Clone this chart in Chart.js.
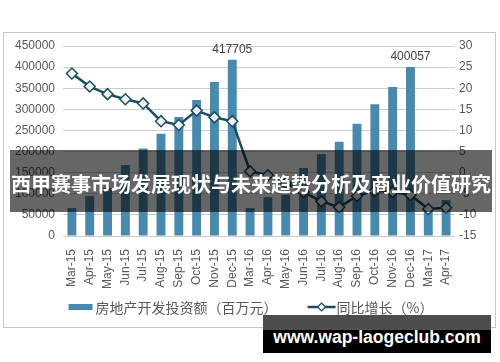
<!DOCTYPE html>
<html>
<head>
<meta charset="utf-8">
<script src="https://cdn.jsdelivr.net/npm/chart.js@4/dist/chart.umd.min.js"></script>
<style>
  body { margin: 0; background: #fff; }
  #wrap { position: relative; width: 500px; height: 362px; overflow: hidden; }
  #frame { position: absolute; left: 3px; top: 32px; width: 493px; height: 296px; box-sizing: border-box; border: 1px solid #c6c6c6; }
  #c { position: absolute; left: 0; top: 0; }
  #banner { position: absolute; left: 10px; top: 150px; width: 482px; height: 62px; background: rgba(0,0,0,0.6);
            color: #fff; font: bold 20px "Noto Sans CJK SC", sans-serif; line-height: 68px; text-align: center;
            white-space: nowrap; overflow: hidden; }
  #mark { position: absolute; left: 263px; top: 315px; width: 228px; height: 38px;
          background: linear-gradient(#4d4d4d 0, #4d4d4d 15px, #000 15px, #000 100%); }
  #mark span { position: absolute; left: 0; right: 0; top: 13px; text-align: center; color: #fff;
               font: bold 17.5px "Liberation Sans", Arial, sans-serif; line-height: 18px; white-space: nowrap; }
</style>
</head>
<body>
<div id="wrap">
  <div id="frame"></div>
  <canvas id="c" width="500" height="362"></canvas>
  <div id="banner">西甲赛事市场发展现状与未来趋势分析及商业价值研究</div>
  <div id="mark"><span>www.wap-laogeclub.com</span></div>
</div>
<script>
// 数据
const categories = ['Mar-15', 'Apr-15', 'May-15', 'Jun-15', 'Jul-15', 'Aug-15', 'Sep-15', 'Oct-15', 'Nov-15', 'Dec-15',
                    'Mar-16', 'Apr-16', 'May-16', 'Jun-16', 'Jul-16', 'Aug-16', 'Sep-16', 'Oct-16', 'Nov-16', 'Dec-16',
                    'Mar-17', 'Apr-17'];
const investment = [66000, 95000, 114000, 168000, 207000, 242000, 282000, 322000, 365000, 417705,
                    66000, 92000, 98000, 161000, 194000, 223000, 266000, 312000, 353000, 400057,
                    65000, 85000];
const growth = [23.5, 20.4, 18.6, 17.4, 16.4, 12.2, 11.3, 14.7, 13.1, 12.2,
                0.3, -0.6, -2.5, -4.6, -6.8, -8.2, -5.5, -4.3, -4.6, -5.3,
                -8.6, -8.3];
const labeledMonths = ['Dec-15', 'Dec-16'];
const leftAxis = { min: 0, max: 450000, step: 50000 };
const rightAxis = { min: -15, max: 30, step: 5 };

const BAR_COLOR = '#4a89ae';
const LINE_COLOR = '#1b4c61';
const TEXT_COLOR = '#595959';
const LATIN = '"Liberation Sans", Arial, sans-serif';
const CJK = '"Noto Sans CJK SC", sans-serif';

// 柱顶数值
const valueLabels = {
  id: 'valueLabels',
  afterDatasetsDraw(chart) {
    const ctx = chart.ctx;
    const meta = chart.getDatasetMeta(0);
    ctx.save();
    ctx.font = '12px ' + LATIN;
    ctx.fillStyle = '#404040';
    ctx.textAlign = 'center';
    ctx.textBaseline = 'alphabetic';
    labeledMonths.forEach(m => {
      const i = categories.indexOf(m);
      const el = meta.data[i];
      ctx.fillText(String(investment[i]), el.x, el.y - 7);
    });
    ctx.restore();
  }
};

// 图例 (线 + 菱形标记)
const customLegend = {
  id: 'customLegend',
  afterDraw(chart) {
    const ctx = chart.ctx;
    const ds = chart.data.datasets;
    const y = 307;
    ctx.save();
    ctx.font = '14px ' + CJK;
    ctx.textBaseline = 'middle';
    const w0 = ctx.measureText(ds[0].label).width;
    const w1 = ctx.measureText(ds[1].label).width;
    const total = 24 + 3 + w0 + 30 + 28 + 1 + w1;
    let x = chart.width / 2 - total / 2 + 1;

    ctx.fillStyle = BAR_COLOR;
    ctx.fillRect(x, y - 3, 24, 6);
    x += 27;
    ctx.fillStyle = TEXT_COLOR;
    ctx.fillText(ds[0].label, x, y + 1);
    x += w0 + 30;

    ctx.strokeStyle = LINE_COLOR;
    ctx.lineWidth = 2.5;
    ctx.beginPath();
    ctx.moveTo(x, y);
    ctx.lineTo(x + 28, y);
    ctx.stroke();
    const cx = x + 14;
    ctx.beginPath();
    ctx.moveTo(cx, y - 4);
    ctx.lineTo(cx + 4, y);
    ctx.lineTo(cx, y + 4);
    ctx.lineTo(cx - 4, y);
    ctx.closePath();
    ctx.fillStyle = '#eef3ef';
    ctx.fill();
    ctx.lineWidth = 1.2;
    ctx.stroke();
    x += 29;
    ctx.fillStyle = TEXT_COLOR;
    ctx.fillText(ds[1].label, x, y + 1);
    ctx.restore();
  }
};

new Chart(document.getElementById('c'), {
  data: {
    labels: categories,
    datasets: [
      {
        type: 'bar',
        label: '房地产开发投资额（百万元）',
        data: investment,
        backgroundColor: BAR_COLOR,
        yAxisID: 'y',
        categoryPercentage: 1,
        barPercentage: 0.5,
        order: 2
      },
      {
        type: 'line',
        label: '同比增长（%）',
        data: growth,
        yAxisID: 'y1',
        borderColor: LINE_COLOR,
        borderWidth: 2.5,
        tension: 0,
        pointStyle: 'rectRot',
        pointRadius: 5.5,
        pointBackgroundColor: '#eef3ef',
        pointBorderColor: LINE_COLOR,
        pointBorderWidth: 1.5,
        order: 1
      }
    ]
  },
  options: {
    responsive: false,
    animation: false,
    devicePixelRatio: 1,
    layout: { padding: { top: 46, bottom: 71, left: 0, right: 0 } },
    plugins: {
      legend: { display: false },
      tooltip: { enabled: false }
    },
    scales: {
      x: {
        grid: { display: false },
        border: { display: false },
        ticks: {
          autoSkip: false, maxRotation: 90, minRotation: 90, padding: 5,
          color: TEXT_COLOR, font: { size: 12, family: LATIN }
        },
        afterFit(scale) { scale.height = 55; }
      },
      y: {
        position: 'left',
        min: leftAxis.min, max: leftAxis.max,
        grid: { color: '#cccccc', drawTicks: false },
        border: { display: false },
        ticks: {
          stepSize: leftAxis.step, padding: 8, color: TEXT_COLOR, font: { size: 12, family: LATIN },
          callback: v => String(v)
        },
        afterFit(scale) { scale.width = 63; }
      },
      y1: {
        position: 'right',
        min: rightAxis.min, max: rightAxis.max,
        grid: { display: false, drawTicks: false },
        border: { display: false },
        ticks: {
          stepSize: rightAxis.step, padding: 4, color: TEXT_COLOR, font: { size: 12, family: LATIN },
          callback: v => String(v)
        },
        afterFit(scale) { scale.width = 45; }
      }
    }
  },
  plugins: [valueLabels, customLegend]
});
</script>
</body>
</html>
